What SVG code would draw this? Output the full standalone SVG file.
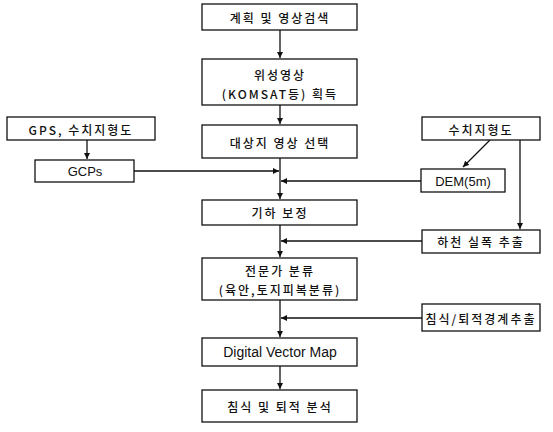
<svg xmlns="http://www.w3.org/2000/svg" width="553" height="432" viewBox="0 0 553 432">
<style>
.box{fill:#fff;stroke:#111;stroke-width:1.3}
.k{font-family:"Noto Sans CJK KR","Noto Sans",sans-serif;font-size:12px;font-weight:500;fill:#111;text-anchor:middle;dominant-baseline:central;letter-spacing:2px}
.l{font-family:"Liberation Sans",Arial,sans-serif;font-size:13px;fill:#111;text-anchor:middle;dominant-baseline:central}
.c{stroke:#111;stroke-width:1.3;fill:none}
</style>
<defs>
<marker id="ah" viewBox="0 0 10 10" refX="10" refY="5" markerWidth="6" markerHeight="6" markerUnits="userSpaceOnUse" orient="auto"><path d="M0,0 L10,5 L0,10 z" fill="#111"/></marker>
</defs>
<g id="connectors">
<path class="c" d="M280,30 V58" marker-end="url(#ah)"/>
<path class="c" d="M280,105 V124" marker-end="url(#ah)"/>
<path class="c" d="M280,158 V199" marker-end="url(#ah)"/>
<path class="c" d="M87,140 V159" marker-end="url(#ah)"/>
<path class="c" d="M134,171 H279" marker-end="url(#ah)"/>
<path class="c" d="M421,181 H281" marker-end="url(#ah)"/>
<path class="c" d="M490,140 L463,167" marker-end="url(#ah)"/>
<path class="c" d="M520,140 V229" marker-end="url(#ah)"/>
<path class="c" d="M280,225 V257" marker-end="url(#ah)"/>
<path class="c" d="M422,241 H281" marker-end="url(#ah)"/>
<path class="c" d="M280,300 V337" marker-end="url(#ah)"/>
<path class="c" d="M422,318 H281" marker-end="url(#ah)"/>
<path class="c" d="M280,366 V389" marker-end="url(#ah)"/>
</g>
<g id="n1"><rect class="box" x="202" y="4" width="155" height="26"/><text class="k" x="280" y="17">계획 및 영상검색</text></g>
<g id="n2"><rect class="box" x="202" y="59" width="155" height="46"/><text class="k" x="280" y="74">위성영상</text><text class="k" x="280" y="93">(KOMSAT등) 획득</text></g>
<g id="n3"><rect class="box" x="202" y="125" width="155" height="33"/><text class="k" x="280" y="142">대상지 영상 선택</text></g>
<g id="gps"><rect class="box" x="7" y="117" width="148" height="23"/><text class="k" x="81" y="129">GPS, 수치지형도</text></g>
<g id="gcps"><rect class="box" x="35" y="160" width="99" height="22"/><text class="l" x="85" y="171">GCPs</text></g>
<g id="map"><rect class="box" x="422" y="117" width="118" height="23"/><text class="k" x="481" y="129">수치지형도</text></g>
<g id="dem"><rect class="box" x="421" y="169" width="84" height="23"/><text class="l" x="463" y="181">DEM(5m)</text></g>
<g id="n4"><rect class="box" x="202" y="200" width="155" height="25"/><text class="k" x="280" y="212">기하 보정</text></g>
<g id="river"><rect class="box" x="422" y="230" width="118" height="23"/><text class="k" x="481" y="241">하천 실폭 추출</text></g>
<g id="n5"><rect class="box" x="202" y="258" width="155" height="42"/><text class="k" x="280" y="270">전문가 분류</text><text class="k" x="280" y="289">(육안,토지피복분류)</text></g>
<g id="erosion"><rect class="box" x="422" y="304" width="118" height="27"/><text class="k" x="481" y="318">침식/퇴적경계추출</text></g>
<g id="n6"><rect class="box" x="202" y="338" width="155" height="28"/><text class="l" x="280" y="352" style="font-size:14px">Digital Vector Map</text></g>
<g id="n7"><rect class="box" x="202" y="390" width="155" height="32"/><text class="k" x="280" y="406">침식 및 퇴적 분석</text></g>
</svg>
